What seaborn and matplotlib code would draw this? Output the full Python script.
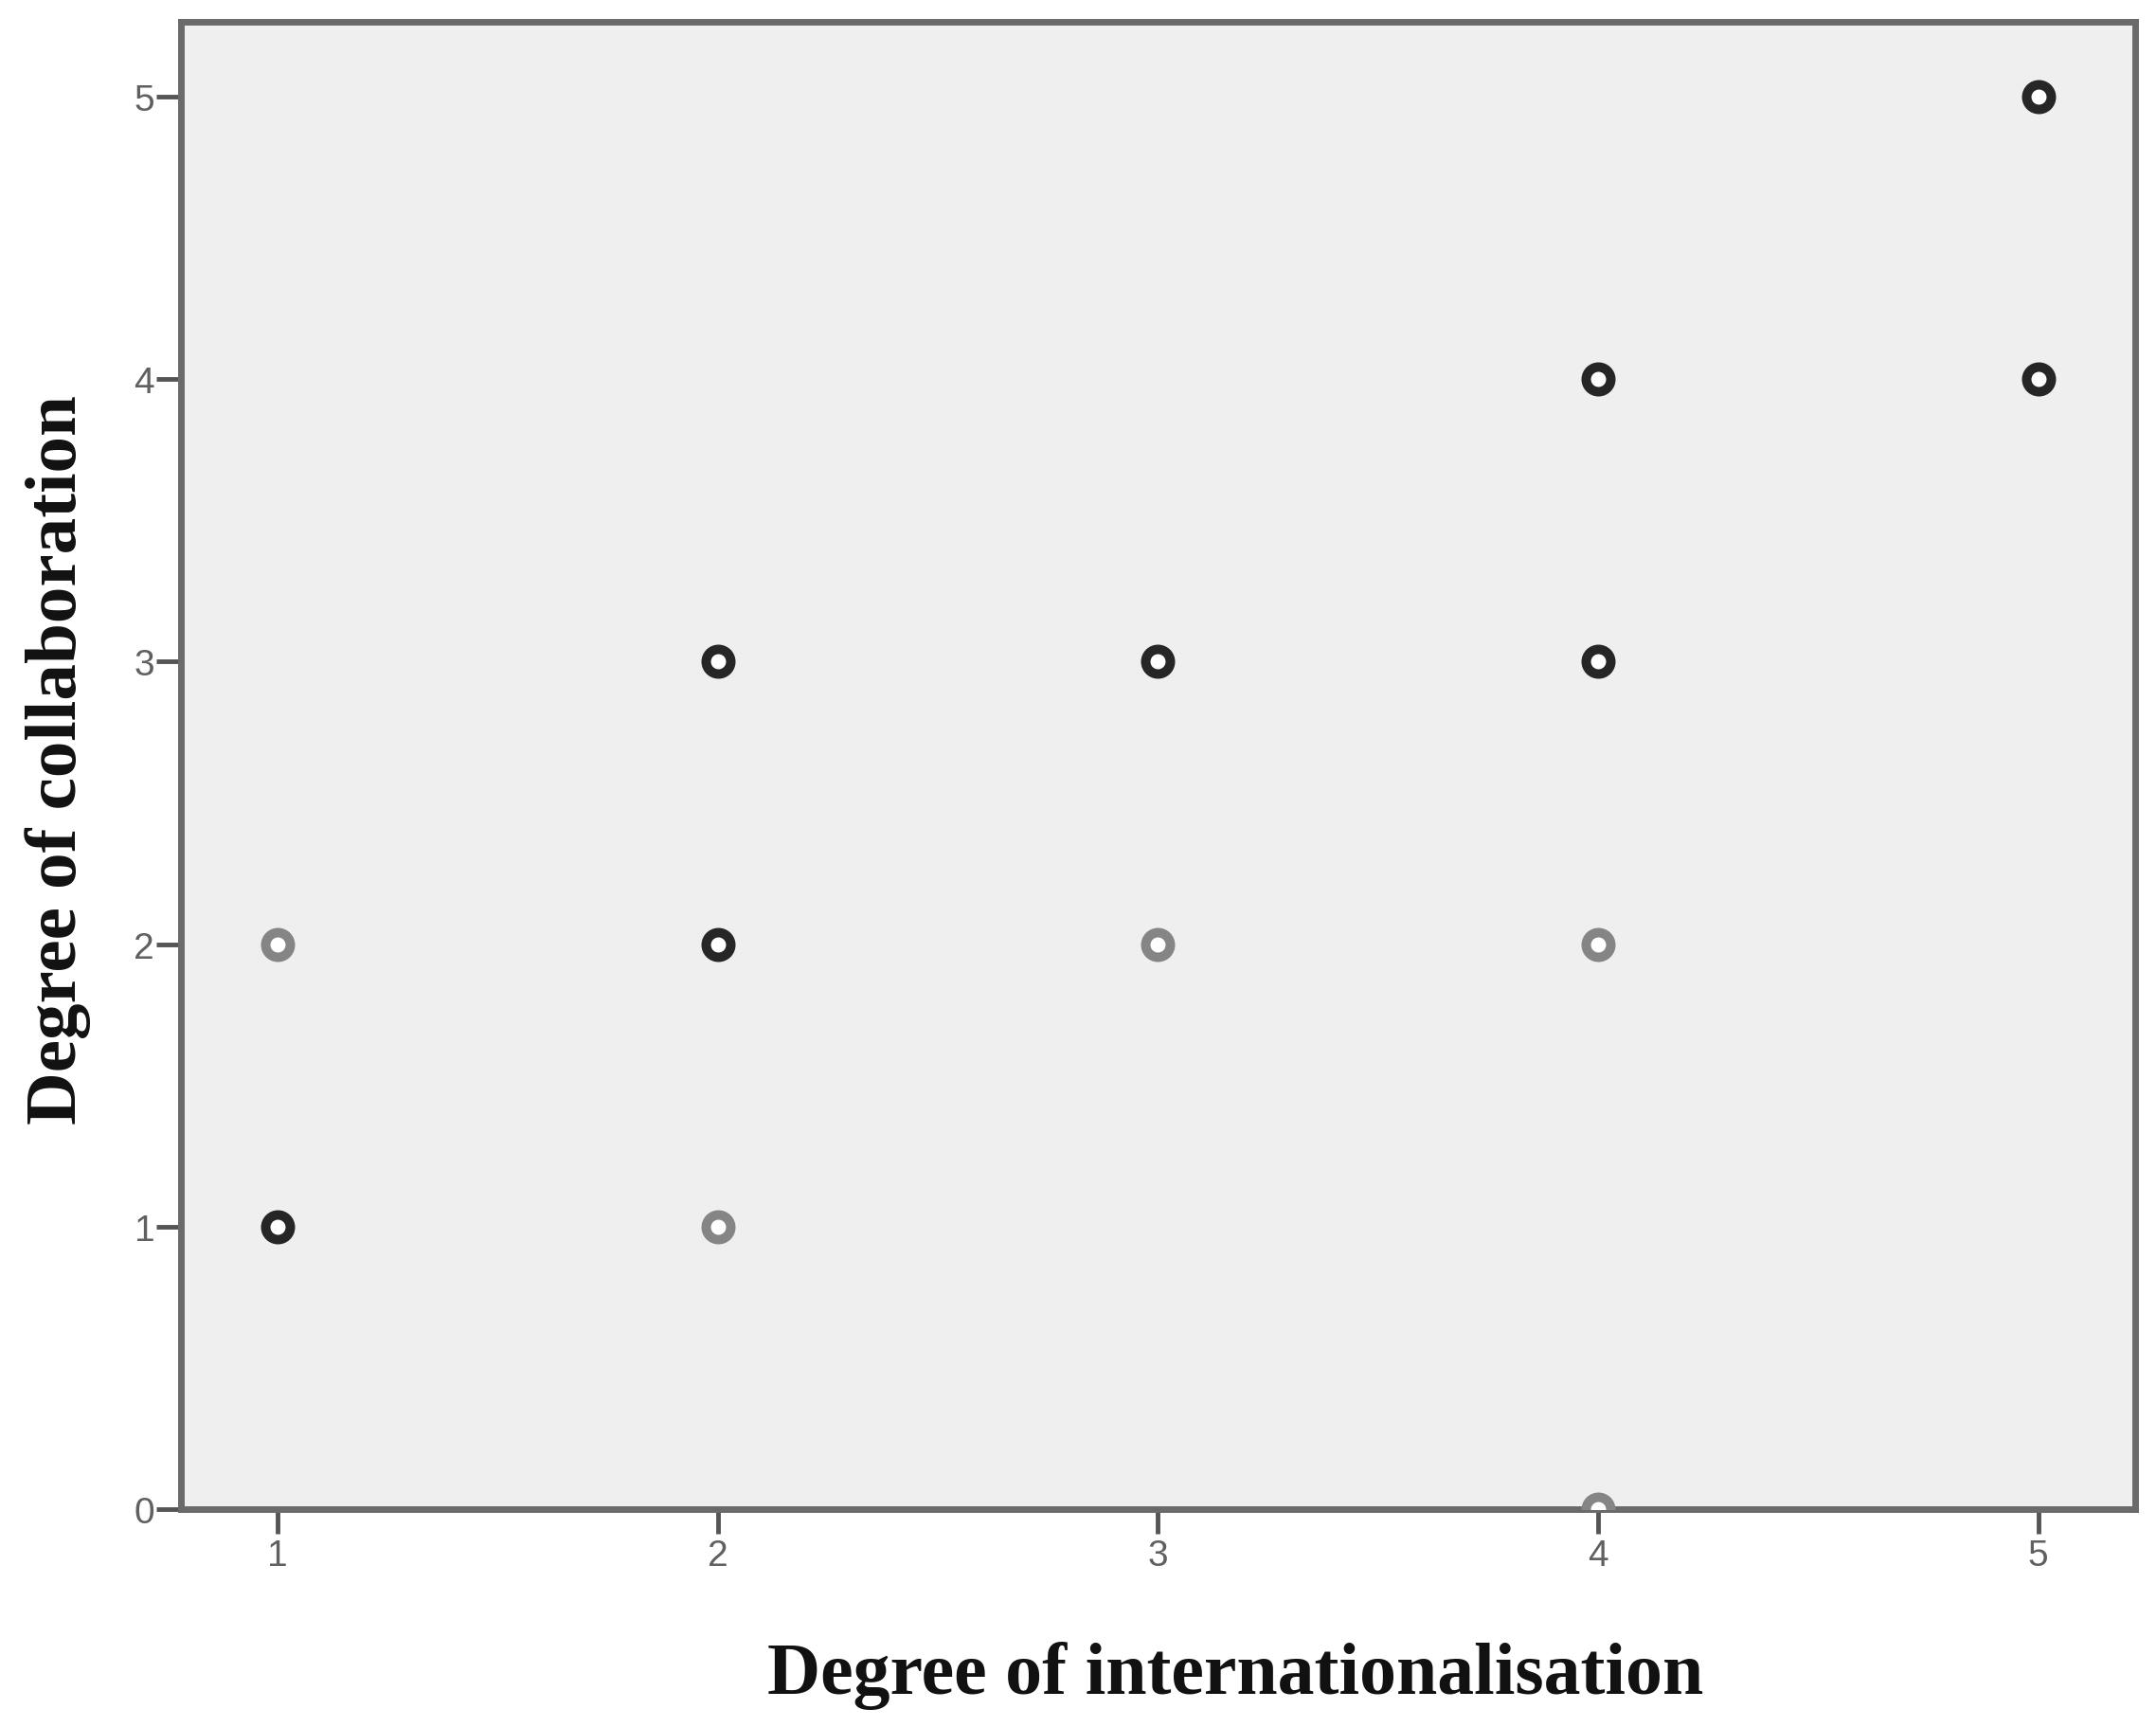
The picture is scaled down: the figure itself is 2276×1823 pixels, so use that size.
import matplotlib
matplotlib.use("Agg")
import matplotlib.pyplot as plt
import numpy as np
import pandas as pd
import seaborn as sns

# data (n = overlap, darker ring when > 1)
internationalisation = [1, 1, 2, 2, 2, 3, 3, 4, 4, 4, 4, 5, 5]
collaboration = [2, 1, 3, 2, 1, 3, 2, 4, 3, 2, 0, 5, 4]
n_cases = [1, 2, 2, 2, 1, 2, 1, 2, 2, 1, 1, 2, 2]

x_ticks = [1, 2, 3, 4, 5]
y_ticks = [0, 1, 2, 3, 4, 5]

df = pd.DataFrame({
    "internationalisation": internationalisation,
    "collaboration": collaboration,
    "n": n_cases,
})

sns.set_theme(style="white")
plt.rcParams["font.family"] = ["Liberation Sans", "DejaVu Sans"]

fig = plt.figure(figsize=(22.76, 18.24), dpi=100)
ax = fig.add_axes([0.0839, 0.1261, 0.9064, 0.8607])
ax.set_facecolor("#efefef")

ring_colors = {1: "#858585", 2: "#262626"}

for n, sub in df.groupby("n"):
    sns.scatterplot(
        data=sub,
        x="internationalisation",
        y="collaboration",
        ax=ax,
        marker="o",
        s=350,
        color="white",
        edgecolor=ring_colors[n],
        linewidth=7.2,
        legend=False,
        zorder=3,
    )

ax.set_xlim(0.78, 5.22)
ax.set_ylim(0, 5.265)
ax.set_xticks(x_ticks)
ax.set_yticks(y_ticks)

ax.tick_params(
    axis="both",
    direction="out",
    length=19,
    width=3.5,
    color="#555555",
    labelsize=28,
    labelcolor="#606060",
)
ax.tick_params(axis="x", pad=3)
ax.tick_params(axis="y", pad=1)
ax.xaxis.set_ticks_position("bottom")
ax.yaxis.set_ticks_position("left")

for spine in ax.spines.values():
    spine.set_visible(True)
    spine.set_color("#6a6a6a")
    spine.set_linewidth(5)

label_font = dict(family="Liberation Serif", weight="bold", color="#111111")
ax.set_xlabel("Degree of internationalisation", va="center", size=56, **label_font)
ax.set_ylabel("Degree of collaboration", va="center", size=55.5, **label_font)
ax.xaxis.set_label_coords(0.5395, -0.1115)
ax.yaxis.set_label_coords(-0.063, 0.5045)

ax.grid(False)

fig.savefig("out.png", dpi=100)
